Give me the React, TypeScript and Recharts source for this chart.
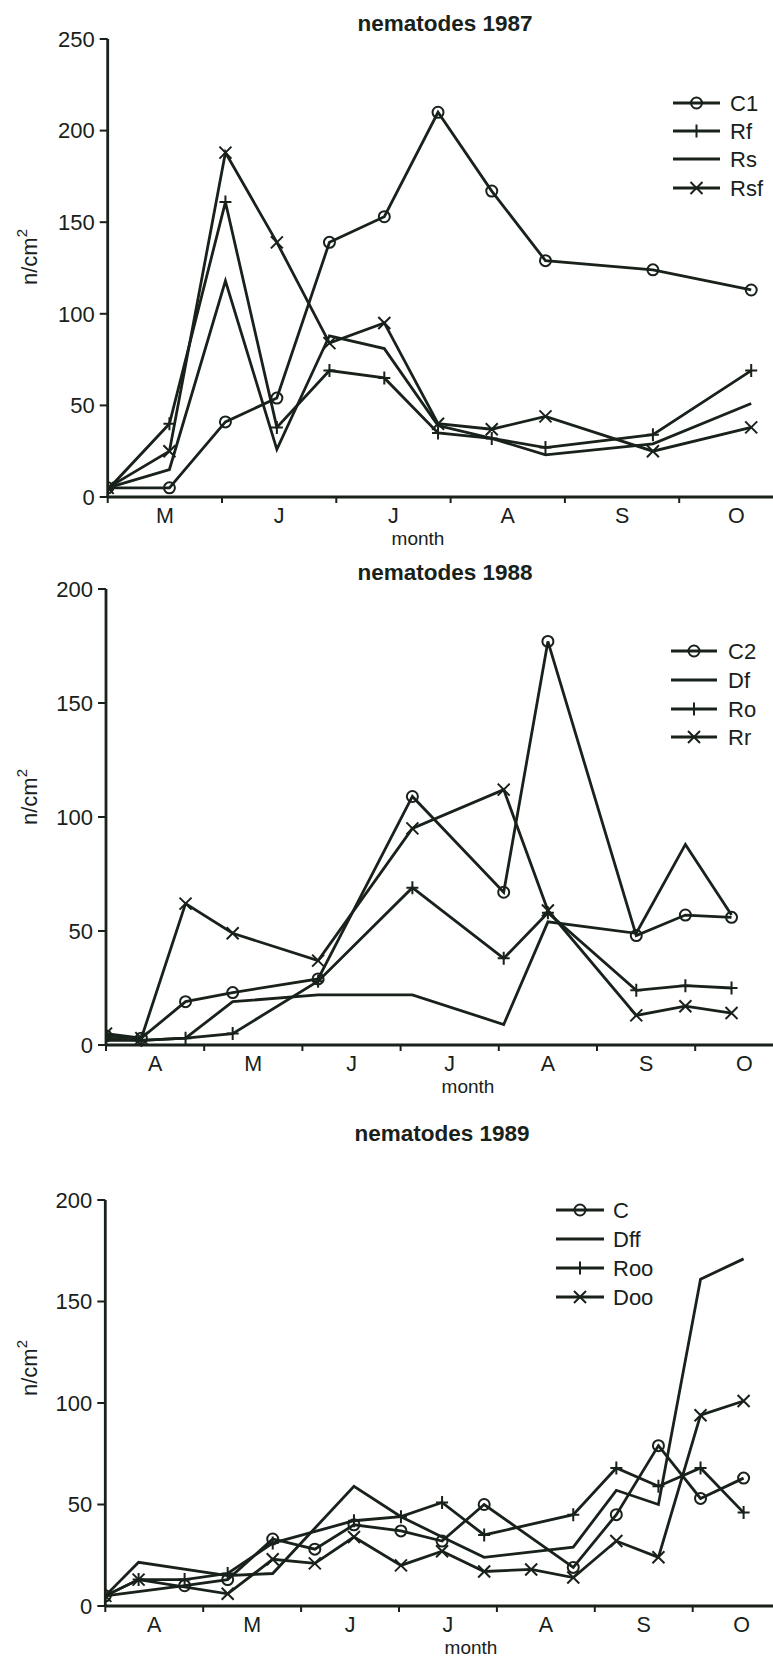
import React from 'react';
import { LineChart, Line, XAxis, YAxis } from 'recharts';

const INK = '#18211a';
const FONT = 'Arial, "Liberation Sans", Helvetica, sans-serif';
const PAGE_W = 773;
const PAGE_H = 1657;
const Y_AXIS_W = 60;
const X_AXIS_H = 40;

// nematodes 1987 (time in months from 1 May)
const months1987 = ['M', 'J', 'J', 'A', 'S', 'O'];
const dates1987 = [0, 0.54, 1.03, 1.48, 1.94, 2.42, 2.89, 3.36, 3.83, 4.77, 5.63];
const c1 = [5, 5, 41, 54, 139, 153, 210, 167, 129, 124, 113];
const rf = [4, 40, 161, 38, 69, 65, 35, 32, 27, 34, 69];
const rs = [5, 15, 118, 26, 88, 81, 39, 32, 23, 29, 51];
const rsf = [5, 25, 188, 139, 84, 95, 40, 37, 44, 25, 38];
const yTicks1987 = [0, 50, 100, 150, 200, 250];

// nematodes 1988 (time in months from 1 April)
const months1988 = ['A', 'M', 'J', 'J', 'A', 'S', 'O'];
const dates1988 = [0, 0.36, 0.81, 1.29, 2.16, 3.12, 4.05, 4.5, 5.4, 5.9, 6.37];
const c2 = [4, 3, 19, 23, 29, 109, 67, 177, 48, 57, 56];
const df = [2, 2, 3, 19, 22, 22, 9, 54, 49, 88, 57];
const ro = [3, 2, 3, 5, 28, 69, 38, 58, 24, 26, 25];
const rr = [5, 3, 62, 49, 37, 95, 112, 59, 13, 17, 14];
const yTicks1988 = [0, 50, 100, 150, 200];

// nematodes 1989 (time in months from 1 April)
const months1989 = ['A', 'M', 'J', 'J', 'A', 'S', 'O'];
const dates1989 = [0, 0.34, 0.81, 1.25, 1.71, 2.14, 2.54, 3.02, 3.44, 3.87, 4.35, 4.78, 5.22, 5.65, 6.08, 6.52];
const cc = [5, null, 10, 13, 33, 28, 40, 37, 32, 50, null, 19, 45, 79, 53, 63];
const dff = [5, 21.5, null, 15, 16, null, 59, 44, 34, 24, null, 29, 57, 50, 161, 171];
const roo = [5, 13, 13, 16, 31, null, 42, 44, 51, 35, null, 45, 68, 59, 68, 46];
const doo = [5, 13, null, 6, 23, 21, 34, 20, 27, 17, 18, 14, 32, 24, 94, 101];
const yTicks1989 = [0, 50, 100, 150, 200];

type Kind = 'circle' | 'plus' | 'cross' | 'none';

function Marker({ kind, cx, cy }: { kind: Kind; cx: number; cy: number }) {
  if (kind === 'circle') return <circle cx={cx} cy={cy} r={5.5} fill="none" stroke={INK} strokeWidth={2} />;
  if (kind === 'plus')
    return <path d={`M${cx - 6},${cy}H${cx + 6}M${cx},${cy - 6.5}V${cy + 6.5}`} stroke={INK} strokeWidth={2} fill="none" />;
  if (kind === 'cross')
    return (
      <path
        d={`M${cx - 6},${cy - 6}L${cx + 6},${cy + 6}M${cx + 6},${cy - 6}L${cx - 6},${cy + 6}`}
        stroke={INK}
        strokeWidth={2}
        fill="none"
      />
    );
  return null;
}

const makeDot = (kind: Kind) => (props: any) => {
  const { cx, cy, index, value } = props;
  if (kind === 'none' || value == null || cx == null || cy == null) return <g key={`d-${index}`} />;
  return (
    <g key={`d-${index}`}>
      <Marker kind={kind} cx={cx} cy={cy} />
    </g>
  );
};

interface PanelProps {
  top: number;
  height: number;
  plotTop: number;
  plotBottom: number;
  plotLeft: number;
  monthPx: number;
  yMax: number;
  yTicks: number[];
  months: string[];
  rows: any[];
  series: { key: string; kind: Kind }[];
  title: string;
  titleX: number;
  titleY: number;
  monthX: number;
  yLabelY: number;
  legendLine: [number, number];
  legendTextX: number;
  legendRows: number[];
}

function Panel(p: PanelProps) {
  const xMax = (PAGE_W - p.plotLeft) / p.monthPx;
  const half = p.monthPx / 2;
  const ty = (y: number) => y - p.top;

  return (
    <div style={{ position: 'absolute', left: 0, top: p.top, width: PAGE_W, height: p.height }}>
      <LineChart
        width={PAGE_W}
        height={p.height}
        data={p.rows}
        margin={{
          top: p.plotTop - p.top,
          bottom: p.top + p.height - p.plotBottom - X_AXIS_H,
          left: p.plotLeft - Y_AXIS_W,
          right: 0,
        }}
      >
        <XAxis
          type="number"
          dataKey="t"
          domain={[0, xMax]}
          ticks={p.months.map((_, i) => i)}
          interval={0}
          height={X_AXIS_H}
          tickSize={6}
          allowDataOverflow
          axisLine={{ stroke: INK, strokeWidth: 2.8 }}
          tickLine={{ stroke: INK, strokeWidth: 2 }}
          tick={(t: any) => (
            <text
              key={`m-${t.payload.value}`}
              x={t.x + half}
              y={t.y + 11}
              textAnchor="middle"
              dominantBaseline="central"
              fontSize={21.5}
              fontFamily={FONT}
              fill={INK}
            >
              {p.months[t.payload.value] ?? ''}
            </text>
          )}
        />
        <YAxis
          type="number"
          domain={[0, p.yMax]}
          ticks={p.yTicks}
          interval={0}
          width={Y_AXIS_W}
          tickSize={8}
          tickMargin={5}
          axisLine={{ stroke: INK, strokeWidth: 2.8 }}
          tickLine={{ stroke: INK, strokeWidth: 2 }}
          tick={{ fill: INK, fontSize: 22, fontFamily: FONT }}
        />
        {p.series.map((s) => (
          <Line
            key={s.key}
            type="linear"
            dataKey={s.key}
            stroke={INK}
            strokeWidth={2.8}
            dot={makeDot(s.kind)}
            activeDot={false}
            connectNulls
            isAnimationActive={false}
          />
        ))}
      </LineChart>
      <svg
        width={PAGE_W}
        height={p.height}
        style={{ position: 'absolute', left: 0, top: 0, pointerEvents: 'none' }}
        fontFamily={FONT}
      >
        <text x={p.titleX} y={ty(p.titleY)} textAnchor="middle" dominantBaseline="central" fontSize={22.5} fontWeight="bold" fill={INK}>
          {p.title}
        </text>
        <text
          x={p.monthX}
          y={p.plotBottom - p.top + 41.5}
          textAnchor="middle"
          dominantBaseline="central"
          fontSize={19}
          fill={INK}
        >
          month
        </text>
        <text
          transform={`translate(29, ${ty(p.yLabelY)}) rotate(-90)`}
          textAnchor="middle"
          dominantBaseline="central"
          fontSize={22}
          fill={INK}
        >
          n/cm
          <tspan dy={-8} fontSize={15}>
            2
          </tspan>
        </text>
        {p.series.map((s, i) => {
          const y = ty(p.legendRows[i]);
          const [x0, x1] = p.legendLine;
          return (
            <g key={s.key}>
              <line x1={x0} x2={x1} y1={y} y2={y} stroke={INK} strokeWidth={2.8} />
              <Marker kind={s.kind} cx={(x0 + x1) / 2} cy={y} />
              <text x={p.legendTextX} y={y} dominantBaseline="central" fontSize={22} fill={INK}>
                {s.key}
              </text>
            </g>
          );
        })}
      </svg>
    </div>
  );
}

const rows1987 = dates1987.map((t, i) => ({ t, C1: c1[i], Rf: rf[i], Rs: rs[i], Rsf: rsf[i] }));
const rows1988 = dates1988.map((t, i) => ({ t, C2: c2[i], Df: df[i], Ro: ro[i], Rr: rr[i] }));
const rows1989 = dates1989.map((t, i) => ({ t, C: cc[i], Dff: dff[i], Roo: roo[i], Doo: doo[i] }));

export default function App() {
  return (
    <div style={{ position: 'absolute', left: 0, top: 0, width: PAGE_W, height: PAGE_H, background: '#fff', overflow: 'hidden' }}>
      <Panel
        top={0}
        height={560}
        plotTop={39}
        plotBottom={497}
        plotLeft={107.7}
        monthPx={114.3}
        yMax={250}
        yTicks={yTicks1987}
        months={months1987}
        rows={rows1987}
        series={[
          { key: 'C1', kind: 'circle' },
          { key: 'Rf', kind: 'plus' },
          { key: 'Rs', kind: 'none' },
          { key: 'Rsf', kind: 'cross' },
        ]}
        title="nematodes 1987"
        titleX={445}
        titleY={23}
        monthX={418}
        yLabelY={257}
        legendLine={[673, 720]}
        legendTextX={730}
        legendRows={[103, 131, 159, 188]}
      />
      <Panel
        top={560}
        height={540}
        plotTop={589}
        plotBottom={1045}
        plotLeft={106}
        monthPx={98.2}
        yMax={200}
        yTicks={yTicks1988}
        months={months1988}
        rows={rows1988}
        series={[
          { key: 'C2', kind: 'circle' },
          { key: 'Df', kind: 'none' },
          { key: 'Ro', kind: 'plus' },
          { key: 'Rr', kind: 'cross' },
        ]}
        title="nematodes 1988"
        titleX={445}
        titleY={572}
        monthX={468}
        yLabelY={797}
        legendLine={[671, 717]}
        legendTextX={728}
        legendRows={[651, 680, 709, 737]}
      />
      <Panel
        top={1100}
        height={557}
        plotTop={1200}
        plotBottom={1606}
        plotLeft={105.3}
        monthPx={97.9}
        yMax={200}
        yTicks={yTicks1989}
        months={months1989}
        rows={rows1989}
        series={[
          { key: 'C', kind: 'circle' },
          { key: 'Dff', kind: 'none' },
          { key: 'Roo', kind: 'plus' },
          { key: 'Doo', kind: 'cross' },
        ]}
        title="nematodes 1989"
        titleX={442}
        titleY={1133}
        monthX={471}
        yLabelY={1368}
        legendLine={[556, 604]}
        legendTextX={613}
        legendRows={[1210, 1239, 1268, 1297]}
      />
    </div>
  );
}
